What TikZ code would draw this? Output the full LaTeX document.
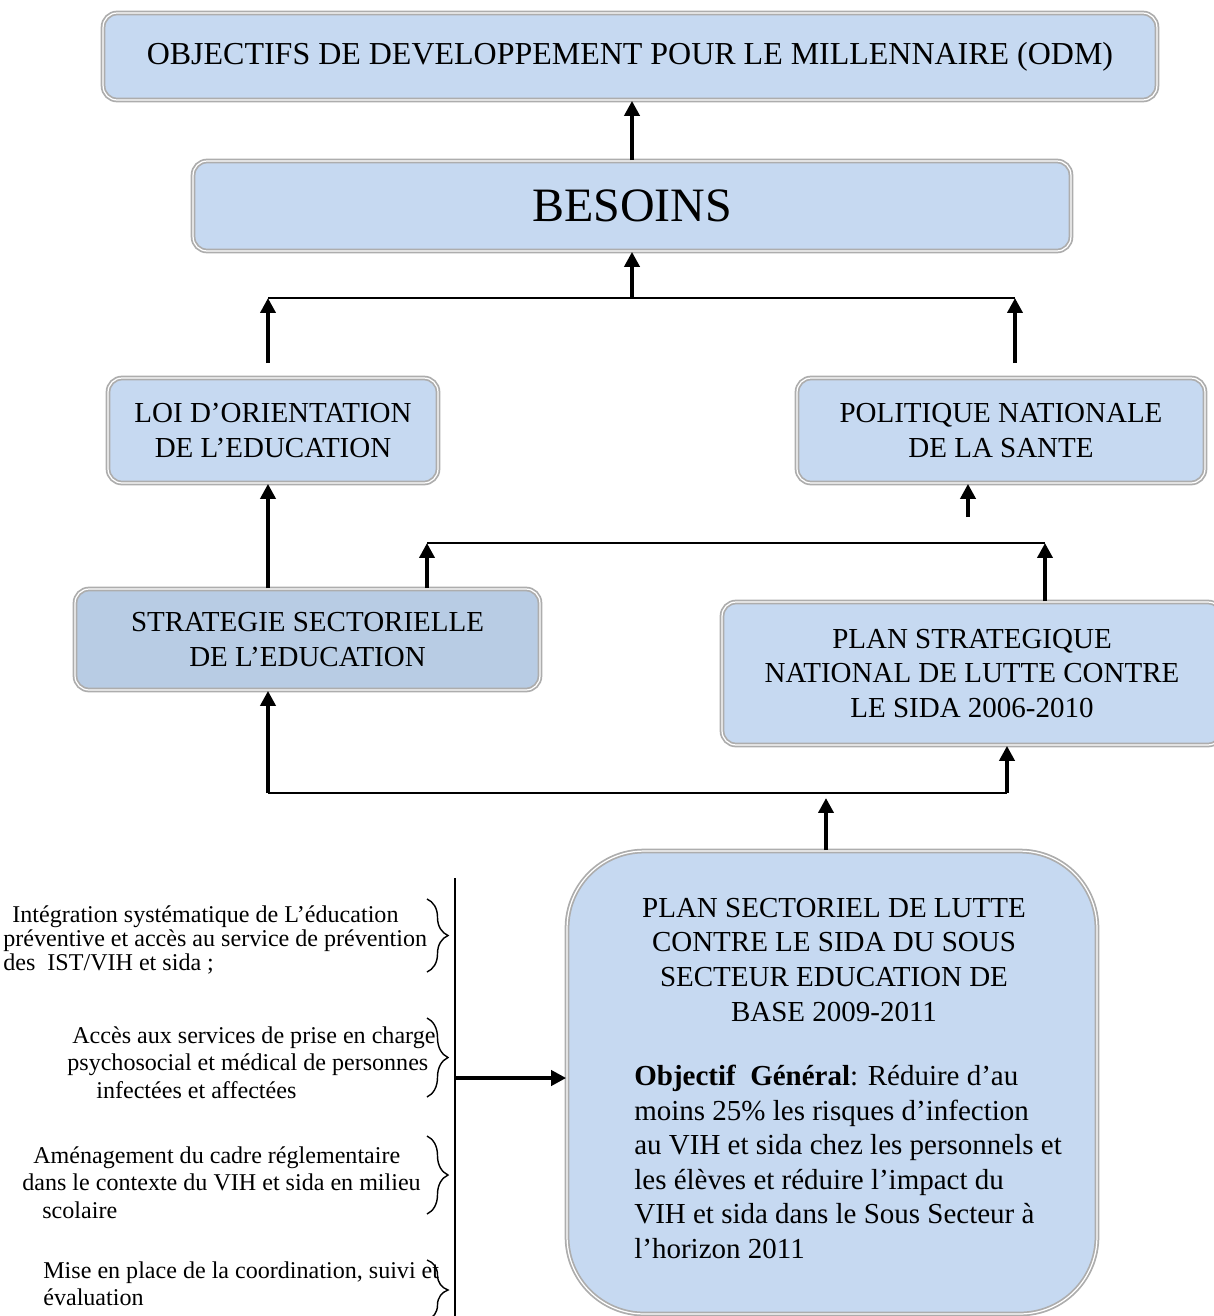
\documentclass[tikz,border=0pt]{standalone}
\usepackage{fontspec}
\setmainfont{Liberation Serif}
\usepackage{tikz}
\usetikzlibrary{arrows.meta, positioning, decorations.pathreplacing}

\definecolor{boxblue}{HTML}{C6D9F1}
\definecolor{boxsteel}{HTML}{B8CCE4}
\definecolor{rimgray}{HTML}{ADADAD}

\tikzset{
  planbox/.style={draw=rimgray, double=white, double distance=0.7pt, line width=1pt,
    fill=boxblue, rounded corners=0.28cm, align=center, inner sep=0pt,
    font=\fontsize{16.5}{19.9}\selectfont},
  uparrow/.style={-{Triangle[width=8.5pt,length=8.5pt]}, line width=2.2pt},
  thinline/.style={line width=1.1pt},
  sidebrace/.style={decorate, decoration={brace, amplitude=0.42cm}, line width=0.8pt},
  sidetext/.style={anchor=west, align=left, inner sep=0pt},
}

\begin{document}
\begin{tikzpicture}[x=0.02cm, y=-0.02cm]
  \useasboundingbox (0,0) rectangle (1214,1316);

  % Boxes
  \node[planbox, minimum width=21.08cm, minimum height=1.74cm,
    font=\fontsize{18.2}{22}\selectfont] (odm) at (630,56.5)
    {OBJECTIFS DE DEVELOPPEMENT POUR LE MILLENNAIRE (ODM)};
  \node[planbox, minimum width=17.56cm, minimum height=1.8cm,
    font=\fontsize{27.3}{32}\selectfont] (besoins) at (632,206) {BESOINS};
  \node[planbox, minimum width=6.6cm, minimum height=2.1cm] (loi) at (273,430.5)
    {LOI D’ORIENTATION\\DE L’EDUCATION};
  \node[planbox, minimum width=8.16cm, minimum height=2.1cm] (politique) at (1001,430.5)
    {POLITIQUE NATIONALE\\DE LA SANTE};
  \node[planbox, fill=boxsteel, minimum width=9.3cm, minimum height=2.02cm] (strategie) at (307.5,639.5)
    {STRATEGIE SECTORIELLE\\DE L’EDUCATION};
  \node[planbox, minimum width=10cm, minimum height=2.86cm] (plan) at (972,673.5)
    {PLAN STRATEGIQUE\\NATIONAL DE LUTTE CONTRE\\LE SIDA 2006-2010};

  % Sector plan (big box)
  \node[planbox, rounded corners=1.54cm, minimum width=10.6cm, minimum height=9.26cm] (psl) at (832,1082.5) {};
  \node[align=center, inner sep=0pt, font=\fontsize{16.5}{19.9}\selectfont] (psltitle) at (834,960)
    {PLAN SECTORIEL DE LUTTE\\CONTRE LE SIDA DU SOUS\\SECTEUR EDUCATION DE\\BASE 2009-2011};
  \node[sidetext, font=\fontsize{16.5}{19.6}\selectfont] (pslgoal) at (634,1162)
    {\textbf{Objectif\ \ Général}: Réduire d’au\\moins 25\% les risques d’infection\\au VIH et sida chez les personnels et\\les élèves et réduire l’impact du\\VIH et sida dans le Sous Secteur à\\l’horizon 2011};

  % Junction points
  \coordinate (jl) at (268,298);
  \coordinate (jr) at (1015,298);
  \coordinate (jtop) at (632,298);
  \coordinate (la) at (268,363);
  \coordinate (ra) at (1015,363);
  \coordinate (ml) at (427,543);
  \coordinate (mr) at (1045,543);
  \coordinate (pa) at (968,517);
  \coordinate (bl) at (268,793);
  \coordinate (br) at (1007,793);
  \coordinate (pt) at (826,798);

  % Upper connectors
  \draw[uparrow] (besoins.north) -- (besoins.north |- odm.south);
  \draw[uparrow] (jtop) -- (besoins.south);
  \draw[thinline] (jl) -- (jr);
  \draw[uparrow] (la) -- (jl);
  \draw[uparrow] (ra) -- (jr);

  % Middle connectors
  \draw[uparrow] (strategie.north -| jl) -- (loi.south -| jl);
  \draw[thinline] (ml) -- (mr);
  \draw[uparrow] (strategie.north -| ml) -- (ml);
  \draw[uparrow] (plan.north -| mr) -- (mr);
  \draw[uparrow] (pa) -- (pa |- politique.south);

  % Lower connectors
  \draw[thinline] (bl) -- (br);
  \draw[uparrow] (bl) -- (bl |- strategie.south);
  \draw[uparrow] (br) -- (br |- plan.south);
  \draw[uparrow] (psl.north -| pt) -- (pt);

  % Axes on the left
  \coordinate (railtop) at (455,878);
  \coordinate (railbot) at (455,1316);
  \coordinate (ra2) at (455,1078);
  \draw[thinline] (railtop) -- (railbot);
  \draw[uparrow] (ra2) -- (ra2 -| psl.west);

  \node[sidetext, font=\fontsize{13.7}{13.4}\selectfont] (axis1) at (3,940)
    {\hspace*{0.18cm}Intégration systématique de L’éducation\\préventive et accès au service de prévention\\des\ \ IST/VIH et sida ;};
  \node[sidetext, font=\fontsize{13.7}{15.6}\selectfont] (axis2) at (67,1062.5)
    {\hspace*{0.1cm}Accès aux services de prise en charge\\psychosocial et médical de personnes\\\hspace*{0.58cm}infectées et affectées};
  \node[sidetext, font=\fontsize{13.7}{15.6}\selectfont] (axis3) at (22,1182.5)
    {\hspace*{0.22cm}Aménagement du cadre réglementaire\\dans le contexte du VIH et sida en milieu\\\hspace*{0.4cm}scolaire};
  \node[sidetext, font=\fontsize{13.7}{15.6}\selectfont] (axis4) at (43,1284)
    {Mise en place de la coordination, suivi et\\évaluation};

  % Braces
  \draw[sidebrace] (427,899) -- (427,972);
  \draw[sidebrace] (427,1018) -- (427,1097);
  \draw[sidebrace] (427,1136) -- (427,1214);
  \draw[sidebrace] (427,1260) -- (427,1320);

\end{tikzpicture}
\end{document}
